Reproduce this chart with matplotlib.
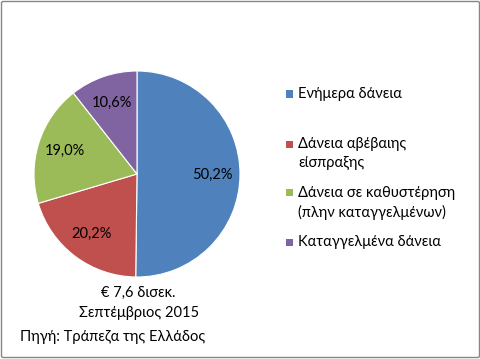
import matplotlib
matplotlib.use("Agg")
import matplotlib.pyplot as plt
from matplotlib.patches import Rectangle, FancyBboxPatch

categories = ["Ενήμερα δάνεια", "Δάνεια αβέβαιης\nείσπραξης",
              "Δάνεια σε καθυστέρηση\n(πλην καταγγελμένων)", "Καταγγελμένα δάνεια"]
values = [50.2, 20.2, 19.0, 10.6]
colors = ["#4F81BD", "#C0504D", "#9BBB59", "#8064A2"]
caption = ["€ 7,6 δισεκ.", "Σεπτέμβριος 2015"]
source = "Πηγή: Τράπεζα της Ελλάδος"

plt.rcParams['font.family'] = ['Lato', 'DejaVu Sans']
W, H = 481, 359
fig = plt.figure(figsize=(W/100, H/100), dpi=100)

def px(x, y):
    return x / W, 1 - y / H

# border
fig.patches.append(FancyBboxPatch((1.5/W, 1.5/H), (W-3)/W, (H-3)/H,
                                  boxstyle="round,pad=0,rounding_size=0.004",
                                  transform=fig.transFigure, fill=False,
                                  edgecolor="#868686", linewidth=1.0))

cx, cy, r = 137, 174, 103
ax = fig.add_axes([(cx - r)/W, (H - cy - r)/H, 2*r/W, 2*r/H])
wedges, texts, autotexts = ax.pie(
    values, colors=colors, startangle=90, counterclock=False,
    autopct=lambda p: f"{p:.1f}".replace('.', ',') + '%',
    pctdistance=0.73, radius=1,
    wedgeprops=dict(edgecolor="white", linewidth=0.8),
    textprops=dict(fontsize=10.5, color="black"))
ax.set_xlim(-1, 1)
ax.set_ylim(-1, 1)
ax.set_aspect('equal')
ax.axis('off')

# legend
leg_y = [94, 144, 193, 242]
for cat, col, y in zip(categories, colors, leg_y):
    fig.patches.append(Rectangle(px(286, y + 3.5), 7/W, 7/H,
                                 transform=fig.transFigure, facecolor=col, edgecolor='none'))
    fig.text(*px(298, y - 7), cat, fontsize=10.5, va='top', ha='left',
             linespacing=1.45, color='black')

fig.text(*px(138, 293), caption[0], fontsize=10.5, ha='center', va='center')
fig.text(*px(139, 313), caption[1], fontsize=10.5, ha='center', va='center')
fig.text(*px(20, 337), source, fontsize=10.5, ha='left', va='center')

fig.savefig("out.png", dpi=100)
